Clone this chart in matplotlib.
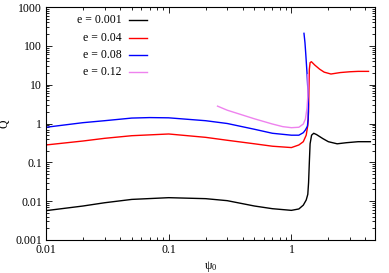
import matplotlib
matplotlib.use("Agg")
import matplotlib.pyplot as plt
from matplotlib.ticker import LogLocator, FixedLocator, FixedFormatter, NullFormatter

plt.rcParams["font.family"] = ["Liberation Serif", "DejaVu Serif"]
plt.rcParams["mathtext.fontset"] = "custom"
plt.rcParams["mathtext.rm"] = "Liberation Serif"
plt.rcParams["mathtext.it"] = "Liberation Serif"

# e = 0.001
psi_a = [0.01, 0.02, 0.03, 0.05, 0.1, 0.2, 0.3, 0.5, 0.7, 1.0, 1.15, 1.25, 1.32,
         1.36, 1.38, 1.40, 1.42, 1.46, 1.52, 1.6, 1.8, 2.0, 2.36, 2.8, 3.5, 4.4]
q_a = [0.0057, 0.0075, 0.0091, 0.0111, 0.0123, 0.0116, 0.0103, 0.0075, 0.0064, 0.0058,
       0.0063, 0.0079, 0.0107, 0.015, 0.03, 0.1, 0.3, 0.5, 0.56, 0.52, 0.41, 0.34,
       0.30, 0.32, 0.34, 0.34]

# e = 0.04
psi_b = [0.01, 0.02, 0.03, 0.05, 0.1, 0.2, 0.3, 0.5, 0.7, 1.0, 1.15, 1.25, 1.32,
         1.36, 1.38, 1.39, 1.40, 1.42, 1.455, 1.55, 1.7, 1.85, 2.1, 2.5, 3.0, 3.5, 4.25]
q_b = [0.28, 0.354, 0.415, 0.485, 0.537, 0.44, 0.37, 0.30, 0.26, 0.24, 0.28, 0.34, 0.5,
       0.9, 2.0, 8.0, 25, 37, 39, 32, 25, 21, 18.8, 20.5, 21.5, 22, 22]

# e = 0.08
psi_c = [0.01, 0.02, 0.03, 0.05, 0.07, 0.1, 0.2, 0.3, 0.5, 0.7, 1.0, 1.15, 1.25,
         1.30, 1.35, 1.37, 1.375, 1.36, 1.34, 1.31, 1.29, 1.266]
q_c = [0.8, 1.05, 1.18, 1.38, 1.42, 1.4, 1.18, 1.0, 0.71, 0.56, 0.5, 0.5, 0.58,
       0.68, 0.85, 1.3, 3.0, 8.0, 20, 60, 120, 210]

# e = 0.12
psi_d = [0.25, 0.3, 0.4, 0.5, 0.7, 0.85, 1.0, 1.15, 1.25, 1.30, 1.34, 1.36, 1.365, 1.36]
q_d = [2.8, 2.2, 1.65, 1.32, 0.97, 0.83, 0.78, 0.80, 0.97, 1.3, 2.5, 5.0, 10, 18]

labels = ["e = 0.001", "e = 0.04", "e = 0.08", "e = 0.12"]
colors = ["black", "red", "blue", "violet"]

W, H = 389, 273
x0, y0, x1, y1 = 46, 7, 375, 240  # axes box in pixels

fig = plt.figure(figsize=(W / 100, H / 100), dpi=100)
ax = fig.add_axes([x0 / W, (H - y1) / H, (x1 - x0) / W, (y1 - y0) / H])

for xs, ys, col in zip([psi_a, psi_b, psi_c, psi_d], [q_a, q_b, q_c, q_d], colors):
    ax.plot(xs, ys, color=col, lw=1.0)

ax.set_xscale("log")
ax.set_yscale("log")
ax.set_xlim(0.01, 4.8)
ax.set_ylim(0.001, 1000)

ax.xaxis.set_major_locator(FixedLocator([0.01, 0.1, 1]))
ax.xaxis.set_major_formatter(FixedFormatter(["0.01", "0.1", "1"]))
ax.xaxis.set_minor_locator(LogLocator(base=10, subs=range(2, 10)))
ax.xaxis.set_minor_formatter(NullFormatter())
yt = [0.001, 0.01, 0.1, 1, 10, 100, 1000]
ax.yaxis.set_major_locator(FixedLocator(yt))
ax.yaxis.set_major_formatter(FixedFormatter(["0.001", "0.01", "0.1", "1", "10", "100", "1000"]))
ax.yaxis.set_minor_locator(LogLocator(base=10, subs=range(2, 10)))
ax.yaxis.set_minor_formatter(NullFormatter())

ax.tick_params(which="both", direction="in", top=True, right=True, labelsize=8.5, width=0.6)
ax.tick_params(which="major", length=4, pad=3)
ax.tick_params(which="minor", length=2)
for s in ax.spines.values():
    s.set_linewidth(0.8)

ax.set_xlabel(r"$\mathregular{\psi_0}$", fontsize=8.5, labelpad=2)
ax.set_ylabel("Q", fontsize=8.5, labelpad=3)

# gnuplot-style key: right-aligned text, sample line to the right
key_rows = [20, 37.7, 55, 72.3]
for lab, col, py in zip(labels, colors, key_rows):
    ya = (y1 - py) / (y1 - y0)
    ax.text((121.7 - x0) / (x1 - x0), ya, lab, transform=ax.transAxes,
            ha="right", va="center", fontsize=8.5)
    ax.plot([(129 - x0) / (x1 - x0), (147.3 - x0) / (x1 - x0)], [ya, ya],
            transform=ax.transAxes, color=col, lw=1.0)

fig.savefig("out.png", dpi=100)
